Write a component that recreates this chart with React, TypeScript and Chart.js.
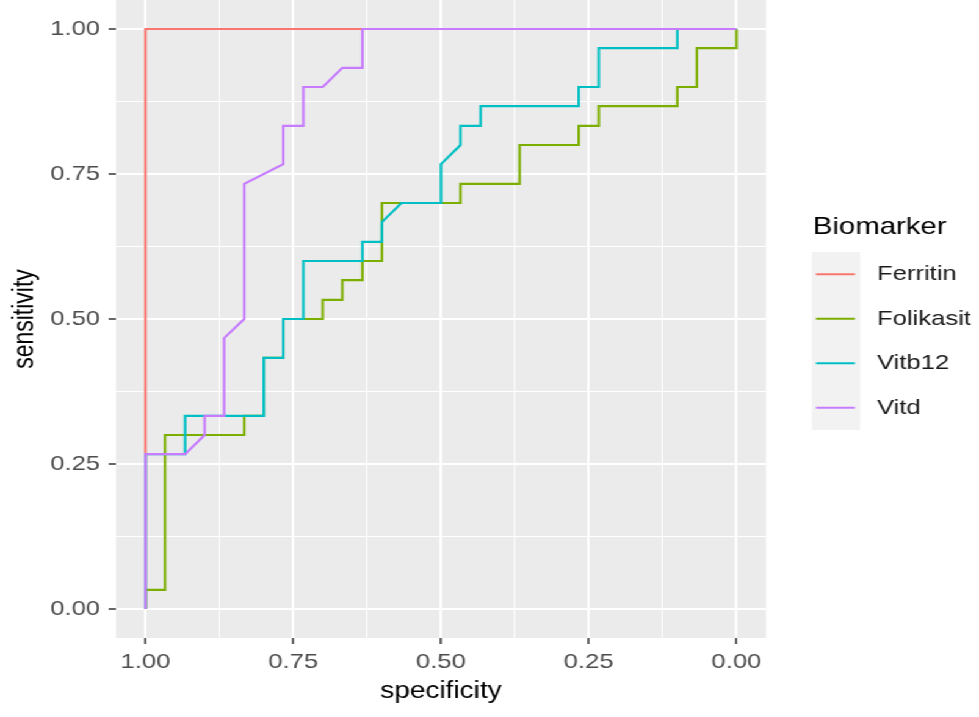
import React, { useEffect, useRef } from 'react';
import { Chart, registerables } from 'chart.js';

Chart.register(...registerables);

// ---------- data ----------
const seriesNames = ['Ferritin', 'Folikasit', 'Vitb12', 'Vitd'];
const seriesColors = ['#F8766D', '#7CAE00', '#00BFC4', '#C77CFF'];

const ferritinSpec = [1, 1, 0];
const ferritinSens = [0, 1, 1];

const folikasitSpec = [1, 1, 0.967, 0.967, 0.833, 0.833, 0.8, 0.8, 0.767, 0.767, 0.7, 0.7, 0.667, 0.667, 0.633, 0.633, 0.6, 0.6, 0.467, 0.467, 0.367, 0.367, 0.267, 0.267, 0.233, 0.233, 0.1, 0.1, 0.067, 0.067, 0, 0];
const folikasitSens = [0, 0.033, 0.033, 0.3, 0.3, 0.333, 0.333, 0.433, 0.433, 0.5, 0.5, 0.533, 0.533, 0.567, 0.567, 0.6, 0.6, 0.7, 0.7, 0.733, 0.733, 0.8, 0.8, 0.833, 0.833, 0.867, 0.867, 0.9, 0.9, 0.967, 0.967, 1];

const vitb12Spec = [1, 1, 0.933, 0.933, 0.8, 0.8, 0.767, 0.767, 0.733, 0.733, 0.633, 0.633, 0.6, 0.6, 0.567, 0.5, 0.5, 0.467, 0.467, 0.433, 0.433, 0.267, 0.267, 0.233, 0.233, 0.1, 0.1, 0];
const vitb12Sens = [0, 0.267, 0.267, 0.333, 0.333, 0.433, 0.433, 0.5, 0.5, 0.6, 0.6, 0.633, 0.633, 0.667, 0.7, 0.7, 0.767, 0.8, 0.833, 0.833, 0.867, 0.867, 0.9, 0.9, 0.967, 0.967, 1, 1];

const vitdSpec = [1, 1, 0.933, 0.9, 0.9, 0.867, 0.867, 0.833, 0.833, 0.767, 0.767, 0.733, 0.733, 0.7, 0.667, 0.633, 0.633, 0];
const vitdSens = [0, 0.267, 0.267, 0.3, 0.333, 0.333, 0.467, 0.5, 0.733, 0.767, 0.833, 0.833, 0.9, 0.9, 0.933, 0.933, 1, 1];

const majorTicks = [0, 0.25, 0.5, 0.75, 1];
const gridValues = [0, 0.125, 0.25, 0.375, 0.5, 0.625, 0.75, 0.875, 1];

const xTitle = 'specificity';
const yTitle = 'sensitivity';
const legendTitle = 'Biomarker';

// ---------- layout (reference image is horizontally stretched) ----------
const W = 979;
const H = 717;
const CW = 802;
const S = W / CW;
const FONT = '"Liberation Sans", Arial, Helvetica, sans-serif';
const LINE_W = 2.1;

const isMajor = (v: number) => majorTicks.some((m) => Math.abs(m - v) < 1e-9);

const bgPlugin = {
  id: 'panelBg',
  beforeDraw(chart: any) {
    const { ctx, chartArea } = chart;
    ctx.save();
    ctx.fillStyle = '#FFFFFF';
    ctx.fillRect(0, 0, chart.width, chart.height);
    ctx.fillStyle = '#EBEBEB';
    ctx.fillRect(chartArea.left, chartArea.top, chartArea.right - chartArea.left, chartArea.bottom - chartArea.top);
    ctx.restore();
  },
};

const legendPlugin = {
  id: 'ggLegend',
  afterDraw(chart: any) {
    const ctx = chart.ctx;
    ctx.save();
    ctx.textAlign = 'left';
    ctx.textBaseline = 'alphabetic';
    ctx.fillStyle = '#000000';
    ctx.font = `24px ${FONT}`;
    ctx.fillText(legendTitle, 813 / S, 234);
    const keyTop = 252;
    const keyH = 44.5;
    ctx.fillStyle = '#F2F2F2';
    ctx.fillRect(812 / S, keyTop, 48 / S, keyH * seriesNames.length);
    seriesNames.forEach((name, i) => {
      const y = keyTop + keyH * (i + 0.5);
      ctx.strokeStyle = seriesColors[i];
      ctx.lineWidth = LINE_W;
      ctx.beginPath();
      ctx.moveTo(816 / S, y);
      ctx.lineTo(855 / S, y);
      ctx.stroke();
      ctx.fillStyle = '#1A1A1A';
      ctx.font = `21px ${FONT}`;
      ctx.textBaseline = 'middle';
      ctx.fillText(name, 877 / S, y);
    });
    ctx.restore();
  },
};

const toPoints = (xs: number[], ys: number[]) => xs.map((x, i) => ({ x, y: ys[i] }));

export default function App() {
  const ref = useRef<HTMLCanvasElement | null>(null);

  useEffect(() => {
    if (!ref.current) return;
    Chart.defaults.font.family = FONT;
    const specs = [ferritinSpec, folikasitSpec, vitb12Spec, vitdSpec];
    const senses = [ferritinSens, folikasitSens, vitb12Sens, vitdSens];
    const datasets = seriesNames.map((name, i) => ({
      label: name,
      data: toPoints(specs[i], senses[i]),
      borderColor: seriesColors[i],
      backgroundColor: seriesColors[i],
      borderWidth: LINE_W,
      pointRadius: 0,
      pointHoverRadius: 0,
      fill: false,
      tension: 0,
      order: seriesNames.length - i,
    }));

    const gridOpts = {
      color: '#FFFFFF',
      lineWidth: (c: any) => (c.tick && isMajor(c.tick.value) ? 2 : 1),
      drawTicks: true,
      tickLength: 6,
      tickWidth: 1.5,
      tickColor: (c: any) => (c.tick && isMajor(c.tick.value) ? '#333333' : 'rgba(0,0,0,0)'),
    };
    const zeroPad = (s: any) => {
      s.paddingLeft = 0;
      s.paddingRight = 0;
      s.paddingTop = 0;
      s.paddingBottom = 0;
    };

    const chart = new Chart(ref.current, {
      type: 'line',
      data: { datasets },
      options: {
        animation: false,
        responsive: false,
        devicePixelRatio: 1,
        parsing: false,
        layout: { padding: { left: 0, top: 0, bottom: 0, right: CW - 766 / S } },
        plugins: { legend: { display: false }, tooltip: { enabled: false } },
        events: [],
        scales: {
          x: {
            type: 'linear',
            reverse: true,
            min: -0.05,
            max: 1.05,
            afterBuildTicks: (s: any) => {
              s.ticks = gridValues.map((v) => ({ value: v }));
            },
            afterFit: (s: any) => {
              s.height = H - 638;
              zeroPad(s);
            },
            ticks: {
              autoSkip: false,
              maxRotation: 0,
              minRotation: 0,
              padding: 6,
              color: '#4D4D4D',
              font: { size: 21, family: FONT },
              callback: (v: any) => (isMajor(Number(v)) ? Number(v).toFixed(2) : ''),
            },
            grid: gridOpts,
            border: { display: false },
            title: {
              display: true,
              text: xTitle,
              color: '#000000',
              font: { size: 23, family: FONT },
              padding: { top: 0, bottom: 12 },
            },
          },
          y: {
            type: 'linear',
            min: -0.05,
            max: 1.05,
            afterBuildTicks: (s: any) => {
              s.ticks = gridValues.map((v) => ({ value: v }));
            },
            afterFit: (s: any) => {
              s.width = 116 / S;
              zeroPad(s);
            },
            ticks: {
              autoSkip: false,
              padding: 7,
              color: '#4D4D4D',
              font: { size: 21, family: FONT },
              callback: (v: any) => (isMajor(Number(v)) ? Number(v).toFixed(2) : ''),
            },
            grid: gridOpts,
            border: { display: false },
            title: {
              display: true,
              text: yTitle,
              color: '#000000',
              font: { size: 23, family: FONT },
              padding: { top: 7, bottom: 0 },
            },
          },
        },
      },
      plugins: [bgPlugin, legendPlugin],
    } as any);

    return () => chart.destroy();
  }, []);

  return (
    <div
      style={{
        position: 'absolute',
        left: 0,
        top: 0,
        width: CW,
        height: H,
        transform: `scaleX(${S})`,
        transformOrigin: '0 0',
        background: '#FFFFFF',
      }}
    >
      <canvas ref={ref} width={CW} height={H} style={{ display: 'block', width: CW, height: H }} />
    </div>
  );
}
